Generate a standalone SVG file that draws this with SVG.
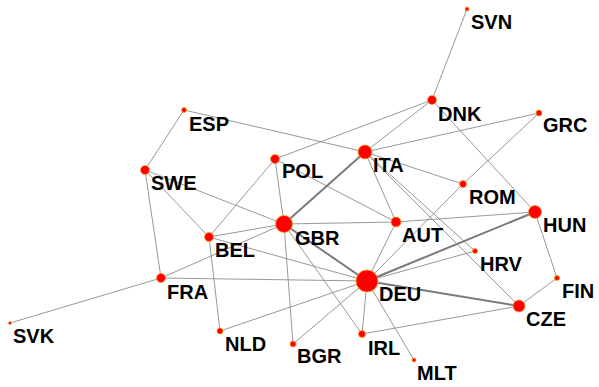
<svg xmlns="http://www.w3.org/2000/svg" width="599" height="387" viewBox="0 0 599 387">
  <style>
    .e { stroke: #8c8c8c; stroke-width: 0.9; fill: none; }
    .w { stroke: #7a7a7a; stroke-width: 2; fill: none; }
    .n { fill: #ff0000; stroke: #f7a21b; stroke-width: 0.8; }
    .t { font-family: "Liberation Sans", Arial, sans-serif; font-weight: bold; font-size: 20px; fill: #000; }
  </style>
  <rect width="599" height="387" fill="#ffffff"/>
  <g id="edges">
    <line class="e" x1="467" y1="9" x2="432" y2="100"/>
    <line class="e" x1="432" y1="100" x2="275" y2="159"/>
    <line class="e" x1="432" y1="100" x2="365" y2="152"/>
    <line class="e" x1="432" y1="100" x2="535" y2="212"/>
    <line class="e" x1="184" y1="110" x2="145" y2="170"/>
    <line class="e" x1="184" y1="110" x2="365" y2="152"/>
    <line class="e" x1="539" y1="113" x2="365" y2="152"/>
    <line class="e" x1="539" y1="113" x2="463" y2="184"/>
    <line class="e" x1="463" y1="184" x2="367" y2="281"/>
    <line class="e" x1="365" y1="152" x2="463" y2="184"/>
    <line class="e" x1="365" y1="152" x2="396" y2="222"/>
    <line class="e" x1="365" y1="152" x2="475" y2="251"/>
    <line class="e" x1="365" y1="152" x2="519" y2="306"/>
    <line class="e" x1="275" y1="159" x2="209" y2="237"/>
    <line class="e" x1="275" y1="159" x2="284" y2="224"/>
    <line class="e" x1="275" y1="159" x2="396" y2="222"/>
    <line class="e" x1="145" y1="170" x2="161" y2="278"/>
    <line class="e" x1="145" y1="170" x2="209" y2="237"/>
    <line class="e" x1="145" y1="170" x2="284" y2="224"/>
    <line class="e" x1="209" y1="237" x2="284" y2="224"/>
    <line class="e" x1="161" y1="278" x2="284" y2="224"/>
    <line class="e" x1="161" y1="278" x2="367" y2="281"/>
    <line class="e" x1="161" y1="278" x2="10" y2="323"/>
    <line class="e" x1="209" y1="237" x2="220" y2="331"/>
    <line class="e" x1="209" y1="237" x2="367" y2="281"/>
    <line class="e" x1="220" y1="331" x2="367" y2="281"/>
    <line class="e" x1="284" y1="224" x2="293" y2="344"/>
    <line class="e" x1="284" y1="224" x2="362" y2="334"/>
    <line class="e" x1="284" y1="224" x2="396" y2="222"/>
    <line class="e" x1="396" y1="222" x2="535" y2="212"/>
    <line class="e" x1="367" y1="281" x2="396" y2="222"/>
    <line class="e" x1="367" y1="281" x2="475" y2="251"/>
    <line class="e" x1="367" y1="281" x2="362" y2="334"/>
    <line class="e" x1="367" y1="281" x2="414" y2="360"/>
    <line class="e" x1="367" y1="281" x2="293" y2="344"/>
    <line class="e" x1="535" y1="212" x2="557" y2="278"/>
    <line class="e" x1="557" y1="278" x2="519" y2="306"/>
    <line class="e" x1="362" y1="334" x2="519" y2="306"/>
    <line class="w" x1="365" y1="152" x2="284" y2="224"/>
    <line class="w" x1="284" y1="224" x2="367" y2="281"/>
    <line class="w" x1="367" y1="281" x2="535" y2="212"/>
    <line class="w" x1="367" y1="281" x2="519" y2="306"/>
  </g>
  <g id="SVN"><circle class="n" cx="467" cy="9" r="2"/><text class="t" x="471" y="29">SVN</text></g>
  <g id="DNK"><circle class="n" cx="432" cy="100" r="4.5"/><text class="t" x="438" y="121">DNK</text></g>
  <g id="GRC"><circle class="n" cx="539" cy="113" r="3"/><text class="t" x="543" y="132">GRC</text></g>
  <g id="ESP"><circle class="n" cx="184" cy="110" r="2.5"/><text class="t" x="189" y="131">ESP</text></g>
  <g id="ITA"><circle class="n" cx="365" cy="152" r="7"/><text class="t" x="373" y="172">ITA</text></g>
  <g id="ROM"><circle class="n" cx="463" cy="184" r="3.5"/><text class="t" x="469" y="204">ROM</text></g>
  <g id="POL"><circle class="n" cx="275" cy="159" r="4.5"/><text class="t" x="282" y="178">POL</text></g>
  <g id="SWE"><circle class="n" cx="145" cy="170" r="4.5"/><text class="t" x="151" y="190">SWE</text></g>
  <g id="GBR"><circle class="n" cx="284" cy="224" r="8.5"/><text class="t" x="295" y="245">GBR</text></g>
  <g id="AUT"><circle class="n" cx="396" cy="222" r="5"/><text class="t" x="402" y="242">AUT</text></g>
  <g id="HUN"><circle class="n" cx="535" cy="212" r="6.5"/><text class="t" x="543" y="232">HUN</text></g>
  <g id="BEL"><circle class="n" cx="209" cy="237" r="4.5"/><text class="t" x="215" y="257">BEL</text></g>
  <g id="HRV"><circle class="n" cx="475" cy="251" r="2.5"/><text class="t" x="480" y="271">HRV</text></g>
  <g id="FRA"><circle class="n" cx="161" cy="278" r="4.5"/><text class="t" x="167" y="299">FRA</text></g>
  <g id="DEU"><circle class="n" cx="367" cy="281" r="11"/><text class="t" x="379" y="301">DEU</text></g>
  <g id="FIN"><circle class="n" cx="557" cy="278" r="2.5"/><text class="t" x="562" y="298">FIN</text></g>
  <g id="CZE"><circle class="n" cx="519" cy="306" r="6"/><text class="t" x="526" y="326">CZE</text></g>
  <g id="SVK"><circle class="n" cx="10" cy="323" r="1.5"/><text class="t" x="13" y="343">SVK</text></g>
  <g id="NLD"><circle class="n" cx="220" cy="331" r="3"/><text class="t" x="225" y="351">NLD</text></g>
  <g id="IRL"><circle class="n" cx="362" cy="334" r="3.5"/><text class="t" x="368" y="355">IRL</text></g>
  <g id="BGR"><circle class="n" cx="293" cy="344" r="3"/><text class="t" x="297" y="363">BGR</text></g>
  <g id="MLT"><circle class="n" cx="414" cy="360" r="2"/><text class="t" x="417" y="380">MLT</text></g>
</svg>
